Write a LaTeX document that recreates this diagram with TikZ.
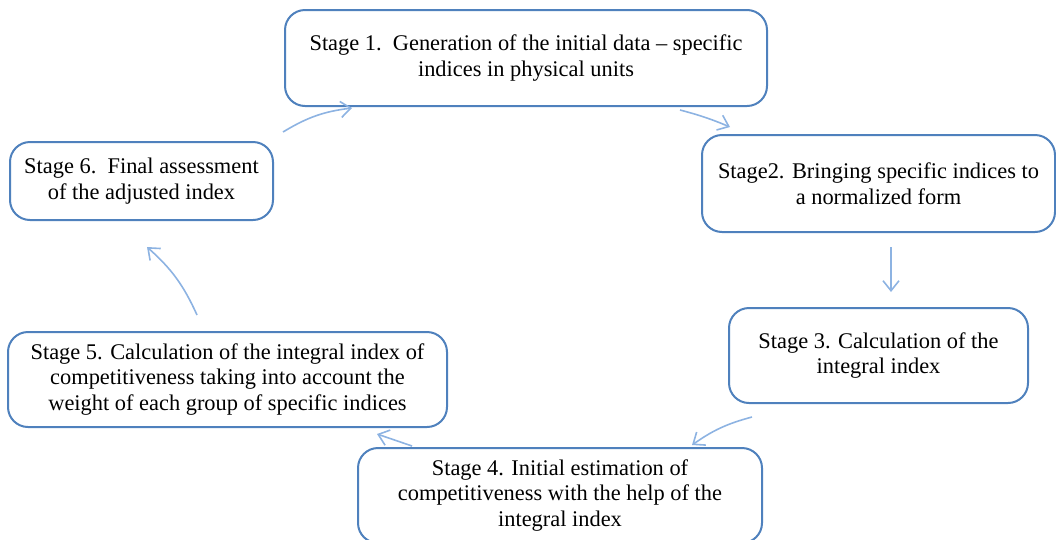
\documentclass[tikz,border=0pt]{standalone}
\usepackage{fontspec}
\setmainfont{Liberation Serif}
\usetikzlibrary{arrows.meta}
\definecolor{boxblue}{HTML}{4F81BD}
\definecolor{arrblue}{HTML}{8DB3E2}
\tikzset{
  stagebox/.style={draw=boxblue, line width=2pt, rounded corners=20pt, fill=white,
    align=center, inner sep=0pt, font=\fontsize{22.4}{25.5}\selectfont},
  flow/.style={draw=arrblue, line width=1.6pt, -{Straight Barb[length=10pt,width=16pt]}}
}
\begin{document}
\begin{tikzpicture}[x=1pt,y=-1pt]
\useasboundingbox (0,0) rectangle (1056,539);
\clip (0,0) rectangle (1056,539);
\node[stagebox, minimum width=482pt, minimum height=96pt] (s1) at (526,58)
  {Stage 1.\ \ Generation of the initial data -- specific\\indices in physical units};
\node[stagebox, minimum width=353pt, minimum height=97pt] (s2) at (878.5,183.5)
  {Stage2. Bringing specific indices to\\a normalized form};
\node[stagebox, minimum width=299pt, minimum height=95pt] (s3) at (878.5,355.5)
  {Stage 3. Calculation of the\\integral index};
\node[stagebox, minimum width=404pt, minimum height=95pt] (s4) at (560,495.5)
  {Stage 4. Initial estimation of\\competitiveness with the help of the\\integral index};
\node[stagebox, minimum width=439pt, minimum height=95pt] (s5) at (227.5,379.5)
  {Stage 5. Calculation of the integral index of\\competitiveness taking into account the\\weight of each group of specific indices};
\node[stagebox, minimum width=263pt, minimum height=78pt] (s6) at (141.5,181)
  {Stage 6.\ \ Final assessment\\of the adjusted index};
% connector end points
\coordinate (a1s) at (283,132); \coordinate (a1e) at (352,108);
\coordinate (a2s) at (680,110); \coordinate (a2e) at (730,127);
\coordinate (a3s) at (891,247); \coordinate (a3e) at (891,292);
\coordinate (a4s) at (752,417); \coordinate (a4e) at (692,445);
\coordinate (a5s) at (412,446); \coordinate (a5e) at (377,434);
\coordinate (a6s) at (197,315); \coordinate (a6e) at (147,247);
\draw[flow] (a1s) to[bend left=12] (a1e);
\draw[flow] (a2s) to[bend left=4] (a2e);
\draw[flow] (a3s) -- (a3e);
\draw[flow] (a4s) to[bend right=10] (a4e);
\draw[flow] (a5s) -- (a5e);
\draw[flow] (a6s) to[bend right=12] (a6e);
\end{tikzpicture}
\end{document}
